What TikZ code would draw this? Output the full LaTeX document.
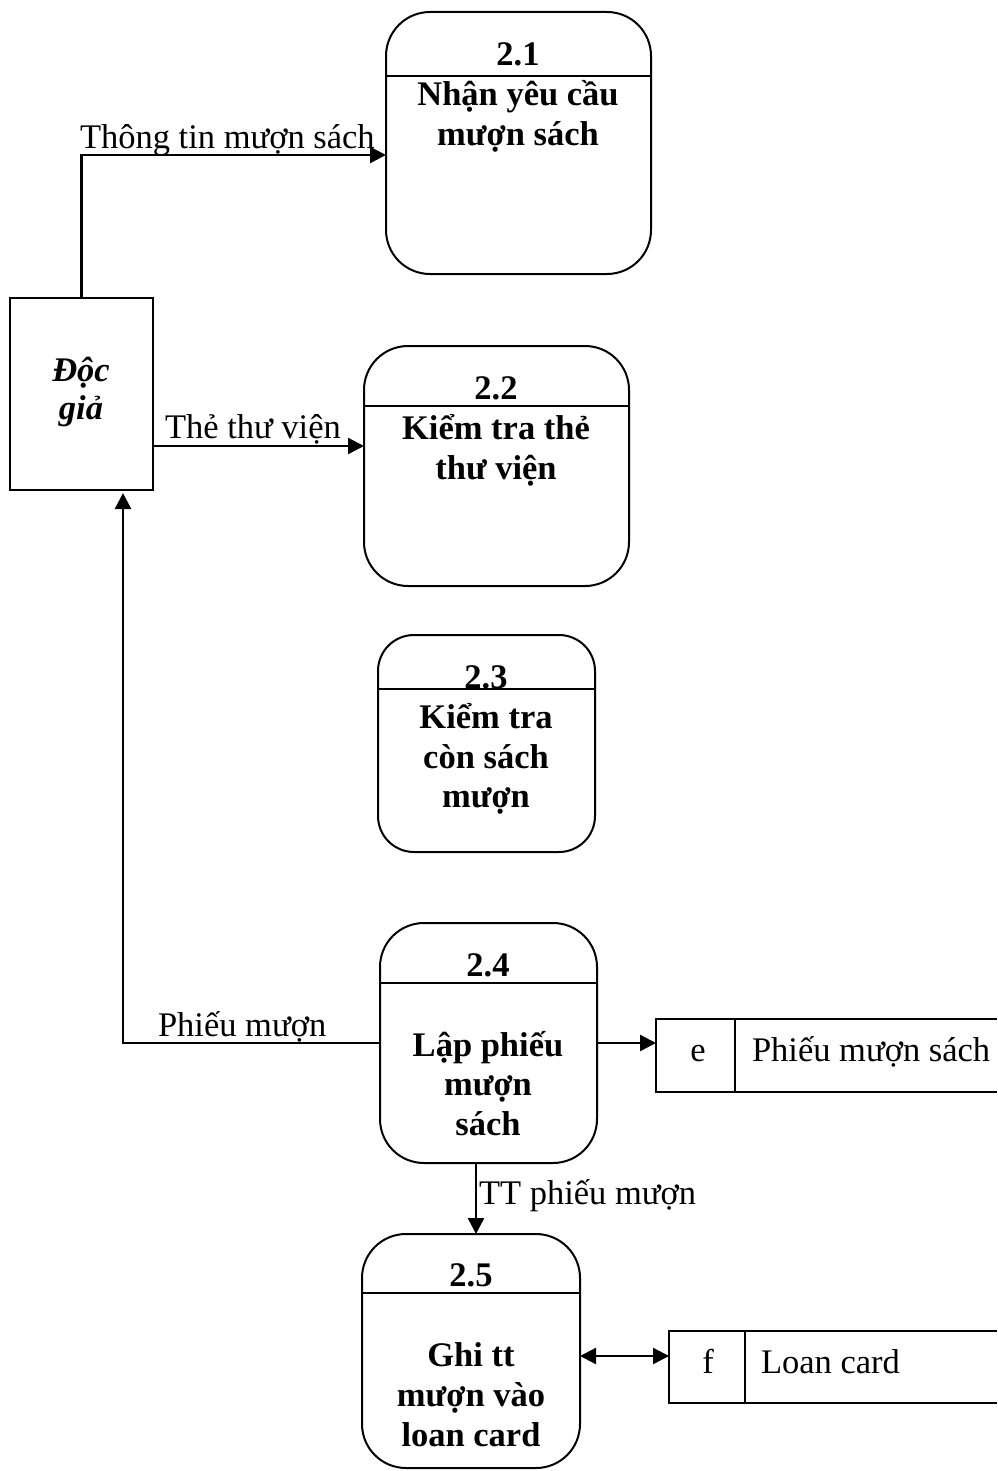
\documentclass[tikz,border=0pt]{standalone}
\usepackage{fontspec}
\setmainfont{Liberation Serif}
\usetikzlibrary{arrows.meta}
\begin{document}
\begin{tikzpicture}[x=1pt,y=-1pt,
  every node/.style={inner sep=0pt, outer sep=0pt},
  proc/.style={draw, line width=2pt, rounded corners=44pt},
  entity/.style={draw, line width=1.8pt},
  store/.style={},
  ttl/.style={font=\fontsize{34.5}{40}\selectfont\bfseries, anchor=base},
  ent/.style={font=\fontsize{34.5}{40}\selectfont\bfseries\itshape, anchor=base},
  lbl/.style={font=\fontsize{34.5}{40}\selectfont, anchor=base west},
  stxt/.style={font=\fontsize{34.5}{40}\selectfont, anchor=base},
  tip/.tip={Triangle[length=16pt,width=16pt]},
  flow/.style={line width=2.4pt, -tip},
  dflow/.style={line width=2.4pt, tip-tip},
  edge/.style={line width=2pt}]
\useasboundingbox (0,0) rectangle (997,1471);

% processes
\node[proc, minimum width=265pt, minimum height=262pt] (p1) at (518.5,143) {};
\node[proc, minimum width=265pt, minimum height=240pt] (p2) at (496.5,466) {};
\node[proc, minimum width=217pt, minimum height=217pt, rounded corners=36pt] (p3) at (486.5,743.5) {};
\node[proc, minimum width=217pt, minimum height=240pt] (p4) at (488.5,1043) {};
\node[proc, minimum width=218pt, minimum height=234pt] (p5) at (471,1351) {};

% header dividers
\draw[edge] (p1.west |- 0,76) -- (p1.east |- 0,76);
\draw[edge] (p2.west |- 0,406) -- (p2.east |- 0,406);
\draw[edge] (p3.west |- 0,689) -- (p3.east |- 0,689);
\draw[edge] (p4.west |- 0,983) -- (p4.east |- 0,983);
\draw[edge] (p5.west |- 0,1293) -- (p5.east |- 0,1293);

% process texts
\node[ttl] (n1) at (518,66) {2.1};
\node[ttl] (n1a) at (518,106) {Nhận yêu cầu};
\node[ttl] (n1b) at (518,146) {mượn sách};

\node[ttl] (n2) at (496,399) {2.2};
\node[ttl] (n2a) at (496,439) {Kiểm tra thẻ};
\node[ttl] (n2b) at (496,479) {thư viện};

\node[ttl] (n3) at (486,688) {2.3};
\node[ttl] (n3a) at (486,728) {Kiểm tra};
\node[ttl] (n3b) at (486,768) {còn sách};
\node[ttl] (n3c) at (486,807) {mượn};

\node[ttl] (n4) at (488,976) {2.4};
\node[ttl] (n4a) at (488,1056) {Lập phiếu};
\node[ttl] (n4b) at (488,1095) {mượn};
\node[ttl] (n4c) at (488,1135) {sách};

\node[ttl] (n5) at (471,1286) {2.5};
\node[ttl] (n5a) at (471,1366) {Ghi tt};
\node[ttl] (n5b) at (471,1406) {mượn vào};
\node[ttl] (n5c) at (471,1446) {loan card};

% external entity
\node[entity, minimum width=143pt, minimum height=192pt] (dg) at (81.5,394) {};
\node[ent] (dga) at (81,381) {Độc};
\node[ent] (dgb) at (81,419) {giả};

% data stores (open on the right)
\node[store, minimum width=341pt, minimum height=73pt] (se) at (826.5,1055.5) {};
\draw[edge] (se.north east) -- (se.north west) -- (se.south west) -- (se.south east);
\draw[line width=1.4pt] ([xshift=79pt]se.north west) -- ([xshift=79pt]se.south west);
\node[stxt] (sea) at (698,1061) {e};
\node[lbl] (seb) at (752,1061) {Phiếu mượn sách};

\node[store, minimum width=328pt, minimum height=72pt] (sf) at (833,1367) {};
\draw[edge] (sf.north east) -- (sf.north west) -- (sf.south west) -- (sf.south east);
\draw[line width=1.4pt] ([xshift=76pt]sf.north west) -- ([xshift=76pt]sf.south west);
\node[stxt] (sfa) at (708,1373) {f};
\node[lbl] (sfb) at (761,1373) {Loan card};

% data flows
\draw[flow] (dg.north) |- ([yshift=-12pt]p1.west);
\node[lbl] (l1) at (80,149) {Thông tin mượn sách};

\draw[flow] ([yshift=-52pt]dg.east) -- ([yshift=-52pt]dg.east -| p2.west);
\node[lbl] (l2) at (165,438) {Thẻ thư viện};

\draw[flow] (p4.west) -| ([xshift=41.5pt,yshift=-3pt]dg.south);
\node[lbl] (l3) at (158,1036) {Phiếu mượn};

\draw[flow] (p4.east) -- (p4.east -| se.west);

\draw[flow] ([xshift=-12.5pt]p4.south) -- ([xshift=-12.5pt]p4.south |- p5.north);
\node[lbl] (l4) at (479,1204) {TT phiếu mượn};

\draw[dflow] ([yshift=-5pt]p5.east) -- ([yshift=-5pt]p5.east -| sf.west);
\end{tikzpicture}
\end{document}
